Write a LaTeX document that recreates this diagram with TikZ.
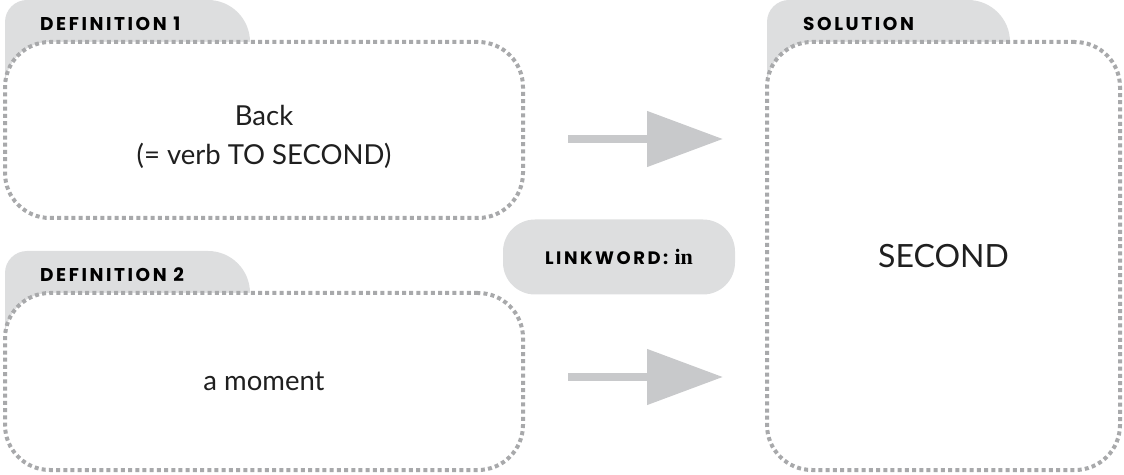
\documentclass[tikz,border=0pt]{standalone}
\usepackage{fontspec}
\setmainfont{Lato}
\newfontfamily\tabfont[LetterSpace=14]{Poppins}
\newfontfamily\linkserif{Liberation Serif}
\usetikzlibrary{arrows.meta,positioning,calc}
\definecolor{tabgray}{RGB}{221,222,223}
\definecolor{dotgray}{RGB}{168,169,171}
\definecolor{arrowgray}{RGB}{200,201,203}
\tikzset{
    % dotted clue boxes
    cluebox/.style={
        draw=dotgray, fill=white, line width=4pt,
        dash pattern=on 4pt off 3.2pt,
        rounded corners=45pt, outer sep=0pt, inner sep=0pt,
        align=center, text=black!88,
        font=\fontsize{27.5}{39}\selectfont
    },
    tabtext/.style={
        anchor=west, inner sep=0pt,
        font=\tabfont\bfseries\fontsize{18.5}{20}\selectfont
    },
    linkpill/.style={
        fill=tabgray, rounded corners=32pt,
        minimum width=232pt, minimum height=75pt,
        font=\tabfont\bfseries\fontsize{18}{20}\selectfont
    },
    grayarrow/.style={
        arrowgray, line width=8pt,
        -{Triangle[length=76pt, width=54pt]}
    }
}

\begin{document}
\begin{tikzpicture}[x=1pt, y=1pt]
    \useasboundingbox (0,0) rectangle (1124,474);

    % box positions
    \coordinate (c1) at (264,344);
    \coordinate (c2) at (264,92.5);
    \coordinate (c3) at (943.5,218);

    % tabs (behind the boxes)
    \fill[tabgray] ($(c1)+(-259,38)$) -- ++(0,70)
        arc[start angle=180, end angle=90, radius=22pt] -- ++(181,0)
        arc[start angle=90, end angle=0, radius=42pt] -- ++(0,-50) -- cycle;
    \fill[tabgray] ($(c2)+(-259,38.5)$) -- ++(0,70)
        arc[start angle=180, end angle=90, radius=22pt] -- ++(181,0)
        arc[start angle=90, end angle=0, radius=42pt] -- ++(0,-50) -- cycle;
    \fill[tabgray] ($(c3)+(-176.5,164)$) -- ++(0,70)
        arc[start angle=180, end angle=90, radius=22pt] -- ++(179,0)
        arc[start angle=90, end angle=0, radius=42pt] -- ++(0,-50) -- cycle;

    % boxes
    \node[cluebox, minimum width=518pt, minimum height=176pt] (def1) at (c1)
        {\rule{0pt}{34pt}Back\\(= verb TO SECOND)};
    \node[cluebox, minimum width=518pt, minimum height=177pt] (def2) at (c2)
        {a moment};
    \node[cluebox, minimum width=353pt, minimum height=428pt,
          font=\fontsize{32}{40}\selectfont] (sol) at (c3) {SECOND};

    % tab labels
    \node[tabtext] (tab1) at ([xshift=35pt, yshift=18pt]def1.north west) {DEFINITION 1};
    \node[tabtext] (tab2) at ([xshift=35pt, yshift=18pt]def2.north west) {DEFINITION 2};
    \node[tabtext] (tab3) at ([xshift=36pt, yshift=18pt]sol.north west) {SOLUTION};

    % linkword
    \node[linkpill] (link) at (619,217) {LINKWORD: {\linkserif\bfseries\fontsize{22}{20}\selectfont in}};

    % arrows
    \draw[grayarrow] ([xshift=45pt, yshift=-9pt]def1.east) -- ([xshift=-44pt, yshift=-9pt]sol.west |- def1.east);
    \draw[grayarrow] ([xshift=45pt, yshift=4.5pt]def2.east) -- ([xshift=-44pt, yshift=4.5pt]sol.west |- def2.east);
\end{tikzpicture}
\end{document}
